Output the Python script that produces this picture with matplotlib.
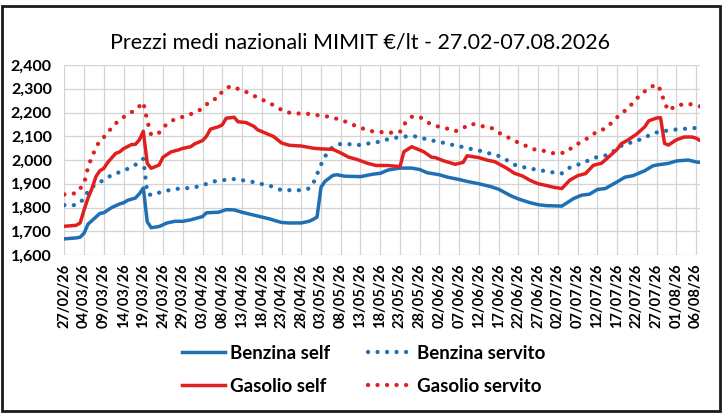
import pandas as pd
import matplotlib
matplotlib.use("Agg")
import matplotlib.pyplot as plt
import matplotlib.dates as mdates
from matplotlib.ticker import FuncFormatter, MultipleLocator
from matplotlib.lines import Line2D

plt.rcParams['font.family'] = ['Lato', 'DejaVu Sans']

title = "Prezzi medi nazionali MIMIT €/lt - 27.02-07.08.2026"
start = pd.Timestamp("2026-02-27")
end = pd.Timestamp("2026-08-07")

# days counted from 27/02/26, values in euro x 1000 per litre
bs_days = [0, 3, 4, 5, 6, 8, 9, 10, 12, 14, 15, 16, 18, 19, 20, 21, 22, 24, 26, 28,
           30, 32, 35, 36, 39, 41, 43, 45, 48, 50, 52, 55, 57, 60, 62, 63, 64, 65, 66, 68,
           69, 71, 75, 78, 80, 82, 85, 88, 90, 92, 95, 97, 100, 102, 105, 108, 110, 113, 115, 118,
           120, 122, 124, 126, 129, 131, 133, 135, 137, 140, 142, 144, 147, 149, 150, 153, 155, 158, 160, 161]
bs_vals = [1668, 1672, 1675, 1692, 1730, 1760, 1775, 1778, 1800, 1815, 1820, 1830, 1840, 1858, 1882, 1740, 1715, 1720, 1735, 1742,
           1742, 1748, 1762, 1778, 1780, 1791, 1790, 1780, 1768, 1760, 1752, 1737, 1735, 1735, 1742, 1750, 1760, 1885, 1910, 1935,
           1938, 1932, 1930, 1940, 1944, 1958, 1966, 1966, 1960, 1946, 1938, 1928, 1918, 1910, 1900, 1888, 1877, 1850, 1836, 1820,
           1812, 1808, 1807, 1806, 1838, 1852, 1856, 1876, 1880, 1908, 1928, 1934, 1955, 1975, 1979, 1986, 1996, 2000, 1992, 1990]

bv_days = [0, 3, 5, 6, 8, 10, 12, 15, 17, 19, 20, 21, 22, 25, 28, 30, 33, 35, 38, 40,
           43, 45, 48, 50, 52, 55, 57, 60, 62, 63, 64, 65, 66, 68, 70, 73, 75, 78, 80, 82,
           85, 88, 90, 92, 95, 97, 100, 102, 105, 107, 110, 112, 114, 117, 119, 122, 124, 126, 128, 131,
           133, 135, 138, 140, 142, 144, 147, 149, 151, 154, 156, 159, 161]
bv_vals = [1810, 1810, 1836, 1869, 1900, 1915, 1937, 1955, 1970, 1990, 2005, 1860, 1852, 1868, 1878, 1880, 1885, 1894, 1910, 1915,
           1920, 1915, 1907, 1899, 1892, 1873, 1873, 1873, 1880, 1900, 1940, 1980, 2015, 2056, 2068, 2066, 2063, 2073, 2077, 2088,
           2097, 2101, 2097, 2085, 2077, 2068, 2058, 2050, 2040, 2031, 2017, 2000, 1980, 1967, 1961, 1953, 1947, 1944, 1968, 1986,
           2000, 2013, 2022, 2049, 2069, 2075, 2094, 2112, 2120, 2127, 2130, 2134, 2136]

gs_days = [0, 3, 4, 5, 6, 7, 8, 9, 10, 11, 13, 14, 15, 17, 18, 19, 20, 21, 22, 24,
           25, 27, 29, 30, 32, 33, 35, 36, 37, 39, 40, 41, 43, 44, 46, 48, 49, 51, 53, 55,
           57, 60, 63, 65, 68, 70, 72, 74, 77, 79, 82, 85, 86, 88, 91, 93, 94, 96, 99, 101,
           102, 105, 107, 109, 112, 114, 116, 118, 120, 122, 124, 126, 128, 130, 132, 134, 136, 137, 140, 141,
           143, 145, 147, 148, 150, 151, 152, 153, 155, 157, 159, 160, 161]
gs_vals = [1721, 1725, 1735, 1790, 1840, 1880, 1930, 1955, 1965, 1990, 2028, 2034, 2048, 2065, 2066, 2085, 2121, 1986, 1965, 1979,
           2012, 2034, 2043, 2049, 2056, 2068, 2082, 2100, 2130, 2140, 2148, 2176, 2180, 2161, 2158, 2142, 2127, 2113, 2099, 2072,
           2062, 2059, 2050, 2047, 2045, 2030, 2012, 2003, 1985, 1977, 1977, 1972, 2035, 2056, 2035, 2012, 2010, 1997, 1982, 1990,
           2018, 2010, 2000, 1993, 1966, 1944, 1933, 1914, 1900, 1893, 1885, 1880, 1915, 1934, 1943, 1978, 1986, 2000, 2045, 2068,
           2087, 2110, 2140, 2165, 2177, 2178, 2070, 2063, 2085, 2097, 2097, 2092, 2082]

gv_days = [0, 3, 5, 6, 7, 8, 9, 11, 12, 14, 16, 18, 20, 21, 22, 24, 26, 28, 30, 33,
           35, 37, 39, 40, 42, 45, 47, 49, 52, 54, 56, 58, 61, 64, 66, 68, 71, 73, 76, 78,
           80, 83, 85, 86, 88, 90, 92, 94, 97, 99, 101, 103, 106, 108, 110, 113, 115, 117, 119, 122,
           124, 127, 129, 131, 133, 135, 137, 139, 141, 143, 144, 146, 148, 150, 151, 152, 153, 155, 158, 161]
gv_vals = [1855, 1860, 1900, 1969, 2015, 2050, 2083, 2110, 2140, 2168, 2193, 2210, 2243, 2165, 2105, 2115, 2153, 2172, 2182, 2199,
           2217, 2250, 2262, 2290, 2311, 2294, 2280, 2262, 2240, 2220, 2203, 2196, 2196, 2189, 2185, 2179, 2163, 2149, 2130, 2121,
           2118, 2115, 2118, 2150, 2182, 2182, 2158, 2144, 2132, 2121, 2135, 2153, 2142, 2137, 2115, 2090, 2073, 2059, 2045, 2037,
           2028, 2031, 2059, 2077, 2097, 2121, 2132, 2163, 2197, 2218, 2244, 2275, 2304, 2318, 2295, 2241, 2208, 2230, 2237, 2226]

blue = "#1f6fb4"
red = "#e21f1f"


def to_dates(days):
    return start + pd.to_timedelta(days, unit="D")


fig = plt.figure(figsize=(7.22, 4.15), dpi=100)
ax = fig.add_axes([0.0891, 0.3855, 0.8805, 0.4578])

dot = (0, (0.01, 2.2))
ax.plot(to_dates(bs_days), bs_vals, color=blue, lw=2.5, solid_joinstyle="round")
ax.plot(to_dates(bv_days), bv_vals, color=blue, lw=3.1, linestyle=dot, dash_capstyle="round")
ax.plot(to_dates(gs_days), gs_vals, color=red, lw=2.5, solid_joinstyle="round")
ax.plot(to_dates(gv_days), gv_vals, color=red, lw=3.1, linestyle=dot, dash_capstyle="round")

ax.set_xlim(start, end)
ax.set_ylim(1600, 2400)
ax.yaxis.set_major_locator(MultipleLocator(100))
ax.yaxis.set_major_formatter(FuncFormatter(lambda v, p: f"{v:,.0f}"))
ticks = pd.date_range(start, end, freq="5D")
ax.set_xticks(ticks)
ax.xaxis.set_major_formatter(mdates.DateFormatter("%d/%m/%y"))
ax.tick_params(axis="x", rotation=90, length=0, pad=6, labelsize=10.5)
ax.tick_params(axis="y", length=0, pad=9, labelsize=11.5)
for lab in ax.get_xticklabels() + ax.get_yticklabels():
    lab.set_fontweight("bold")

ax.grid(True, color="#d4d4d4", lw=0.9)
ax.set_axisbelow(True)
for s in ax.spines.values():
    s.set_visible(False)

fig.text(0.4986, 0.897, title, ha="center", va="center", fontsize=15.5)

handles = [
    Line2D([], [], color=blue, lw=2.5),
    Line2D([], [], color=red, lw=2.5),
    Line2D([], [], color=blue, lw=3.1, linestyle=dot, dash_capstyle="round"),
    Line2D([], [], color=red, lw=3.1, linestyle=dot, dash_capstyle="round"),
]
labels = ["Benzina self", "Gasolio self", "Benzina servito", "Gasolio servito"]
fig.legend(handles, labels, ncol=2, loc="center", bbox_to_anchor=(0.5035, 0.109),
           frameon=False, prop={"weight": "bold", "size": 13.5}, handlelength=2.3,
           handletextpad=0.3, columnspacing=2.0, labelspacing=0.85)

# chart border
fig.patches.append(plt.Rectangle((2 / 722, 4 / 415), 718 / 722, 405 / 415, transform=fig.transFigure,
                                 fill=False, edgecolor="#1a1a1a", lw=2))

fig.savefig("out.png", dpi=100, facecolor="white")
